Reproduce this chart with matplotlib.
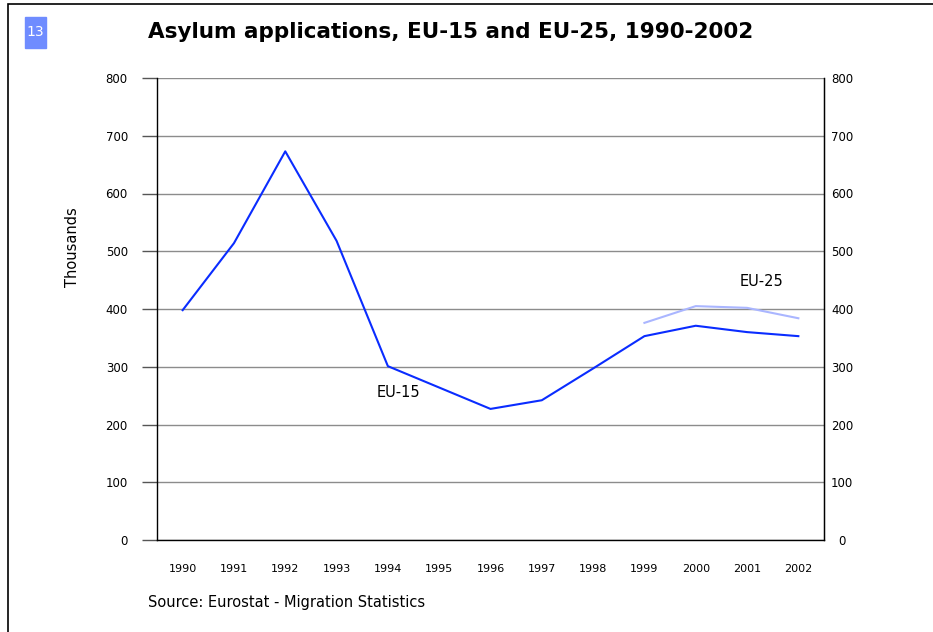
import matplotlib
matplotlib.use("Agg")
import matplotlib.pyplot as plt
from matplotlib.patches import Rectangle

years = ["1990", "1991", "1992", "1993", "1994", "1995", "1996", "1997", "1998",
         "1999", "2000", "2001", "2002"]
eu15 = [398, 514, 673, 518, 301, 264, 227, 242, 297, 353, 371, 360, 353]
eu25_years = ["1999", "2000", "2001", "2002"]
eu25 = [376, 405, 402, 384]
yticks = [0, 100, 200, 300, 400, 500, 600, 700, 800]

W, H = 933, 632
fig = plt.figure(figsize=(W / 100, H / 100), dpi=100)
ax = fig.add_axes([157 / W, 1 - 540 / H, (824 - 157) / W, (540 - 78) / H])

x = list(range(len(years)))
x25 = [years.index(y) for y in eu25_years]
ax.plot(x, eu15, color="#0a2cff", lw=1.5, zorder=3)
ax.plot(x25, eu25, color="#aab6ff", lw=1.5, zorder=3)

ax.set_xlim(-0.5, len(years) - 0.5)
ax.set_ylim(0, 800)
ax.set_yticks(yticks)
ax.set_xticks(x)
ax.set_xticklabels(years)
ax.yaxis.grid(True, color="#8c8c8c", lw=1)
ax.set_axisbelow(True)
ax.tick_params(axis="y", direction="out", length=11, width=1, color="#555555",
               labelsize=8.5, pad=10)
ax.tick_params(axis="x", length=0, labelsize=8, pad=17)
for lab in ax.get_xticklabels():
    lab.set_family("Liberation Sans Narrow")
ax.spines["top"].set_visible(False)
for s in ["left", "right", "bottom"]:
    ax.spines[s].set_color("black")
    ax.spines[s].set_linewidth(1)

ax2 = ax.twinx()
ax2.set_ylim(0, 800)
ax2.set_yticks(yticks)
ax2.tick_params(axis="y", length=0, labelsize=8.5, pad=13)
for lab in ax2.get_yticklabels():
    lab.set_horizontalalignment("center")
for s in ["top", "left", "bottom"]:
    ax2.spines[s].set_visible(False)
ax2.spines["right"].set_color("black")

ax.set_ylabel("Thousands", fontsize=10.5)
ax.yaxis.set_label_coords(-77 / (824 - 157), (540 - 247) / (540 - 78))

ax.text(4.2, 255, "EU-15", fontsize=10.5, ha="center", va="center")
ax.text(11.28, 448, "EU-25", fontsize=10.5, ha="center", va="center")

fig.text(148 / W, 1 - 32 / H, "Asylum applications, EU-15 and EU-25, 1990-2002",
         fontsize=15.5, fontweight="bold", ha="left", va="center")
fig.patches.append(Rectangle((25 / W, 1 - 48 / H), 21 / W, 31 / H,
                             transform=fig.transFigure, color="#6f8cff"))
fig.text(35.5 / W, 1 - 32 / H, "13", color="white", fontsize=10, ha="center", va="center")
fig.text(148 / W, 1 - 603 / H, "Source: Eurostat - Migration Statistics", fontsize=10.5,
         ha="left", va="center")
fig.patches.append(Rectangle((8 / W, -0.01), 1.1, 1 - 4 / H + 0.01,
                             transform=fig.transFigure, fill=False, edgecolor="black", lw=1.2))

fig.savefig("out.png", dpi=100)
